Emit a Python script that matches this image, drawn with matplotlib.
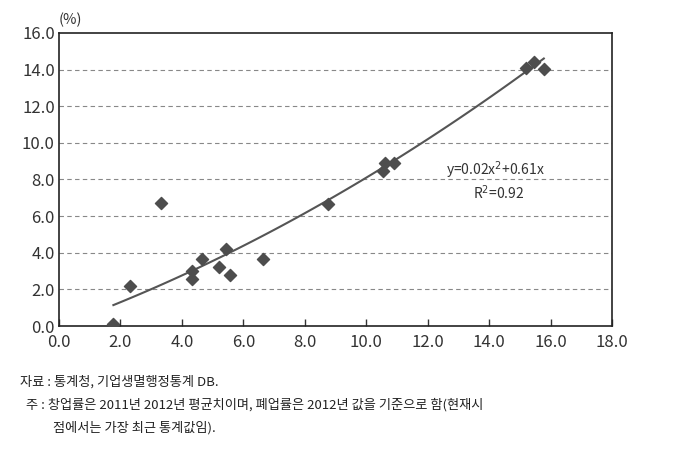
import matplotlib
matplotlib.use("Agg")
import matplotlib.pyplot as plt
import numpy as np

plt.rcParams['font.family'] = ['Noto Sans CJK KR', 'DejaVu Sans']

# 폐업률(x) - 창업률(y)
x_rate = [1.77, 2.32, 3.32, 4.34, 4.34, 4.66, 5.21, 5.43, 5.56, 6.63, 8.74,
          10.54, 10.60, 10.91, 15.21, 15.47, 15.78]
y_rate = [0.10, 2.18, 6.70, 3.02, 2.57, 3.68, 3.24, 4.20, 2.77, 3.68, 6.67,
          8.49, 8.89, 8.92, 14.10, 14.41, 14.06]
coef_a, coef_b = 0.02, 0.61
x_ticks = [0, 2, 4, 6, 8, 10, 12, 14, 16, 18]
y_ticks = [0, 2, 4, 6, 8, 10, 12, 14, 16]

fig = plt.figure(figsize=(6.91, 4.55), dpi=100)
ax = fig.add_axes([0.0854, 0.2835, 0.8003, 0.644])

xs = np.linspace(min(x_rate), max(x_rate), 100)
ax.plot(xs, coef_a * xs**2 + coef_b * xs, color='#555555', lw=1.5, zorder=2)
ax.scatter(x_rate, y_rate, marker='D', s=38, color='#4d4d4d', zorder=3)

ax.set_xlim(0, 18)
ax.set_ylim(0, 16)
ax.set_xticks(x_ticks)
ax.set_yticks(y_ticks)
ax.set_xticklabels(['%.1f' % v for v in x_ticks])
ax.set_yticklabels(['%.1f' % v for v in y_ticks])
ax.tick_params(axis='x', direction='in', length=5, width=1, labelsize=12, colors='#333333', pad=6)
ax.tick_params(axis='y', length=0, labelsize=12, colors='#333333', pad=3)
for v in y_ticks[1:-1]:
    ax.axhline(v, color='#888888', lw=0.8, ls=(0, (4, 3)), zorder=1)
for s in ax.spines.values():
    s.set_linewidth(1.2)
    s.set_color('#222222')

ax.text(14.2, 8.5, 'y=0.02x$^2$+0.61x', ha='center', va='center', fontsize=10, color='#333333')
ax.text(14.3, 7.3, 'R$^2$=0.92', ha='center', va='center', fontsize=10, color='#333333')
fig.text(70 / 691, 1 - 20 / 455, '(%)', ha='center', va='center', fontsize=10.5, color='#333333')

fig.text(20 / 691, 1 - 382 / 455, '자료 : 통계청, 기업생멸행정통계 DB.', ha='left', va='center', fontsize=9.5, color='#222222')
fig.text(26 / 691, 1 - 405 / 455, '주 : 창업률은 2011년 2012년 평균치이며, 폐업률은 2012년 값을 기준으로 함(현재시',
         ha='left', va='center', fontsize=9.5, color='#222222')
fig.text(53 / 691, 1 - 428 / 455, '점에서는 가장 최근 통계값임).', ha='left', va='center', fontsize=9.5, color='#222222')

fig.savefig('out.png', dpi=100)
